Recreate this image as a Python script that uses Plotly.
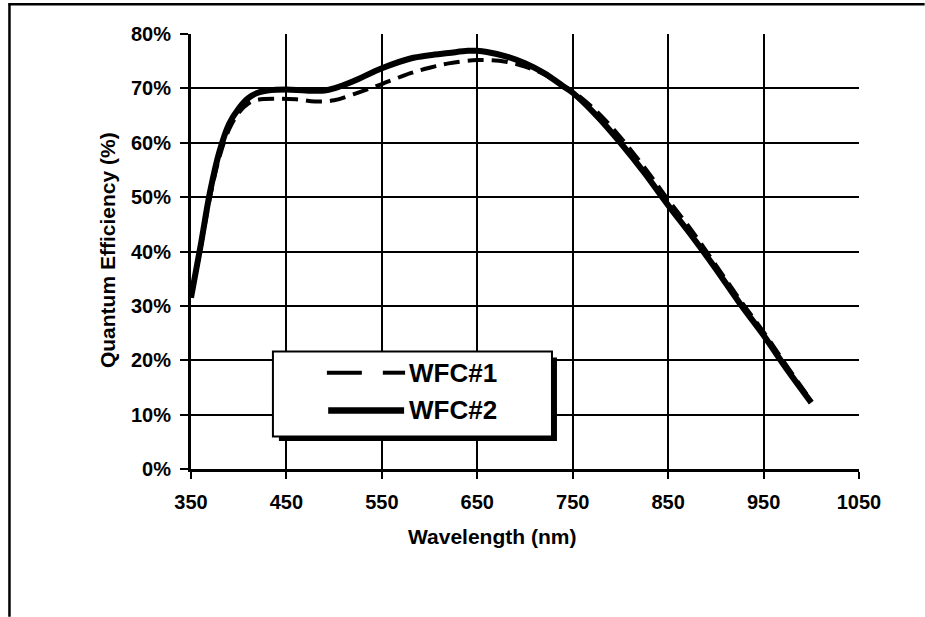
import plotly.graph_objects as go

# Wavelength (nm) and quantum efficiency (%) for the two detectors
wl_wfc1 = [350, 360, 370, 380, 390, 400, 410, 420, 440, 460, 480, 500, 520, 550,
           580, 600, 620, 650, 680, 700, 720, 740, 750, 775, 800, 825, 850, 875,
           900, 925, 950, 975, 1000]
qe_wfc1 = [31.5, 40.5, 50.0, 57.5, 62.5, 65.5, 67.2, 67.9, 68.1, 68.0, 67.6, 67.8,
           68.9, 70.8, 72.8, 73.8, 74.6, 75.2, 74.9, 74.0, 72.6, 70.5, 69.5, 65.8,
           61.0, 55.5, 49.5, 43.8, 37.5, 31.2, 25.2, 18.8, 12.5]

wl_wfc2 = [350, 360, 370, 380, 390, 400, 410, 420, 430, 450, 470, 490, 500, 520,
           550, 580, 600, 620, 640, 650, 660, 680, 700, 720, 740, 750, 775, 800,
           825, 850, 875, 900, 925, 950, 975, 1000]
qe_wfc2 = [31.5, 41.0, 51.0, 58.5, 63.5, 66.3, 68.2, 69.2, 69.6, 69.8, 69.6, 69.6,
           70.0, 71.3, 73.7, 75.5, 76.1, 76.5, 76.9, 76.9, 76.7, 75.9, 74.6, 72.8,
           70.4, 69.2, 65.0, 60.0, 54.5, 48.5, 42.8, 36.8, 30.5, 24.6, 18.2, 12.2]

x_ticks = [350, 450, 550, 650, 750, 850, 950, 1050]
y_ticks = [0, 10, 20, 30, 40, 50, 60, 70, 80]
y_tick_text = [f"{v}%" for v in y_ticks]
series_names = ["WFC#1", "WFC#2"]

W, H = 925, 617
L, R, T, B = 190.7, 859.3, 34.3, 469.3
FONT = "Liberation Sans, Arial, sans-serif"


def px(x):
    return (x - L) / (R - L)


def py(y):
    return (B - y) / (B - T)


fig = go.Figure()
fig.add_trace(go.Scatter(x=wl_wfc1, y=qe_wfc1, mode="lines", name=series_names[0],
                         line=dict(color="black", width=4, dash="16px,8px", shape="spline"),
                         showlegend=False))
fig.add_trace(go.Scatter(x=wl_wfc2, y=qe_wfc2, mode="lines", name=series_names[1],
                         line=dict(color="black", width=6, shape="spline"),
                         showlegend=False))

shapes = []
# outer frame: top and left edges
shapes.append(dict(type="line", xref="paper", yref="paper", x0=px(8), x1=px(W),
                   y0=py(4.5), y1=py(4.5), line=dict(color="black", width=2.5)))
shapes.append(dict(type="line", xref="paper", yref="paper", x0=px(9), x1=px(9),
                   y0=py(3.5), y1=py(H), line=dict(color="black", width=2.5)))

# legend box with drop shadow
lx0, ly0, lx1, ly1 = 272.7, 351.7, 552.0, 436.7
shapes.append(dict(type="rect", xref="paper", yref="paper", x0=px(lx0 + 6), x1=px(lx1 + 5),
                   y0=py(ly0 + 6), y1=py(ly1 + 4.5), fillcolor="black",
                   line=dict(width=0), layer="above"))
shapes.append(dict(type="rect", xref="paper", yref="paper", x0=px(lx0), x1=px(lx1),
                   y0=py(ly0), y1=py(ly1), fillcolor="white",
                   line=dict(color="black", width=2), layer="above"))
# legend samples
y1s, y2s = 373.0, 410.7
shapes.append(dict(type="line", xref="paper", yref="paper", x0=px(326.7), x1=px(361.7),
                   y0=py(y1s), y1=py(y1s), line=dict(color="black", width=4), layer="above"))
shapes.append(dict(type="line", xref="paper", yref="paper", x0=px(382.7), x1=px(405),
                   y0=py(y1s), y1=py(y1s), line=dict(color="black", width=4), layer="above"))
shapes.append(dict(type="line", xref="paper", yref="paper", x0=px(328), x1=px(404),
                   y0=py(y2s), y1=py(y2s), line=dict(color="black", width=6.5), layer="above"))

annotations = [
    dict(text=series_names[0], xref="paper", yref="paper", x=px(407), y=py(y1s),
         xanchor="left", yanchor="middle", showarrow=False,
         font=dict(family=FONT, size=26, color="black", weight="bold")),
    dict(text=series_names[1], xref="paper", yref="paper", x=px(407), y=py(y2s),
         xanchor="left", yanchor="middle", showarrow=False,
         font=dict(family=FONT, size=26, color="black", weight="bold")),
    dict(text="Wavelength (nm)", xref="paper", yref="paper", x=px(492), y=py(536.7),
         xanchor="center", yanchor="middle", showarrow=False,
         font=dict(family=FONT, size=21, color="black", weight="bold")),
    dict(text="Quantum Efficiency (%)", xref="paper", yref="paper", x=px(107), y=py(250),
         xanchor="center", yanchor="middle", showarrow=False, textangle=-90,
         font=dict(family=FONT, size=21, color="black", weight="bold")),
]

fig.update_layout(
    width=W, height=H,
    margin=dict(l=L, r=W - R, t=T, b=H - B, pad=0),
    paper_bgcolor="white", plot_bgcolor="white",
    shapes=shapes, annotations=annotations,
    showlegend=False,
    xaxis=dict(range=[350, 1050], tickmode="array", tickvals=x_ticks,
               ticks="outside", ticklen=7, tickwidth=2, tickcolor="black",
               showgrid=True, gridcolor="black", gridwidth=2,
               showline=True, linecolor="black", linewidth=3, mirror=False,
               zeroline=False, ticklabelstandoff=6,
               tickfont=dict(family=FONT, size=20, color="black", weight="bold")),
    yaxis=dict(range=[0, 80], tickmode="array", tickvals=y_ticks, ticktext=y_tick_text,
               ticks="outside", ticklen=8, tickwidth=2, tickcolor="black",
               showgrid=True, gridcolor="black", gridwidth=2,
               showline=True, linecolor="black", linewidth=3, mirror=False,
               zeroline=False, ticklabelstandoff=5,
               tickfont=dict(family=FONT, size=20, color="black", weight="bold")),
)

fig.write_html("out.html")
